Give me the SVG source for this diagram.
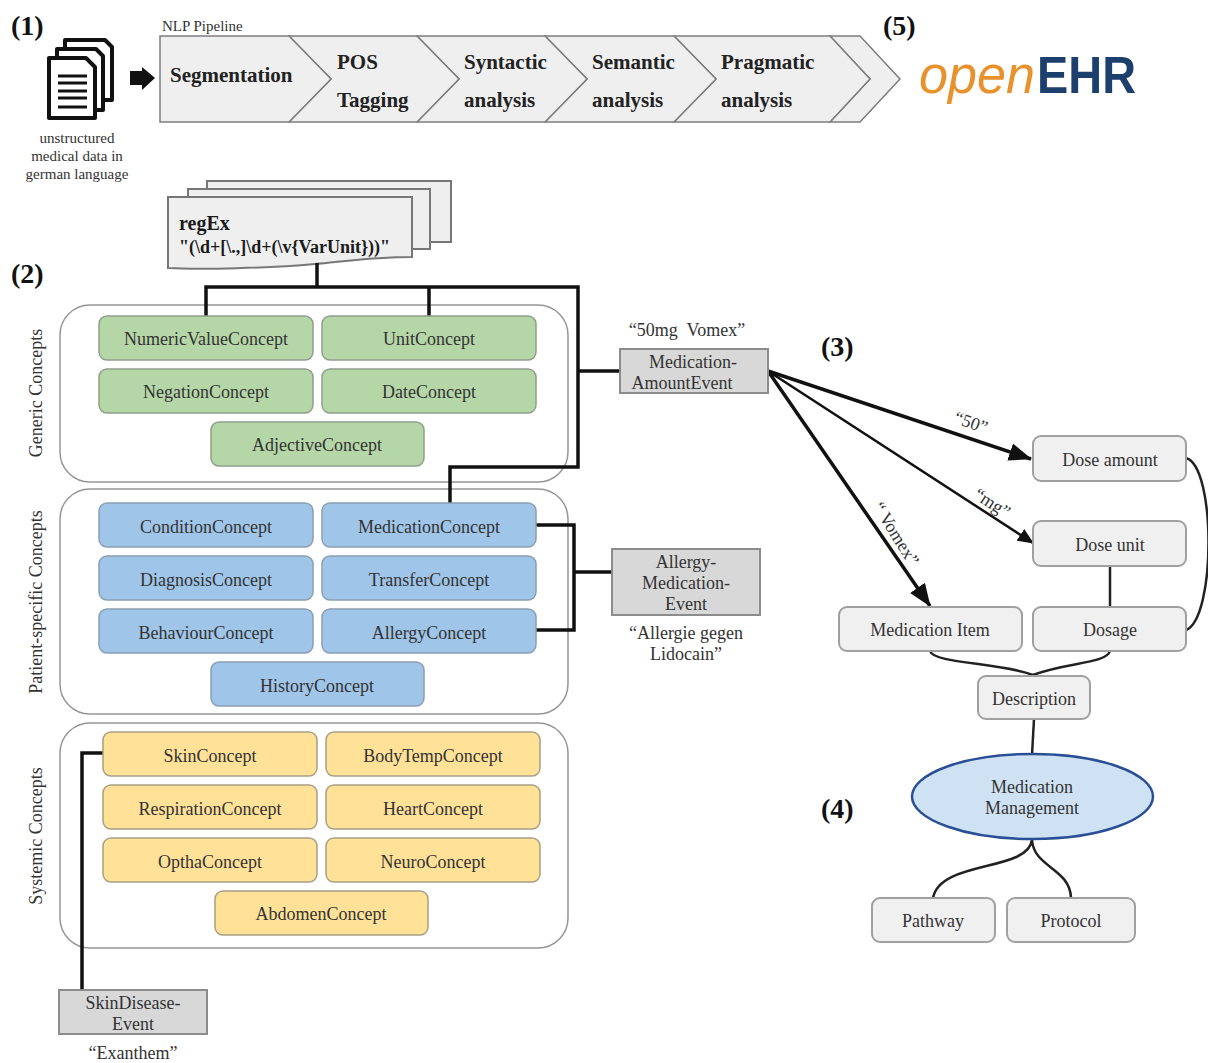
<svg xmlns="http://www.w3.org/2000/svg" width="1208" height="1063" viewBox="0 0 1208 1063">
<style>
text{font-family:"Liberation Serif","Times New Roman",serif;fill:#333;font-size:18px}
.c{text-anchor:middle}
.b{font-weight:bold;fill:#1a1a1a}
.h{font-weight:bold;font-size:28px;fill:#111}
.s{font-size:15px;fill:#333}
.st{font-size:21px;font-weight:bold;fill:#222}
.green rect{fill:#b5d7a8;stroke:#8f9f8a;stroke-width:1.5}
.blue rect{fill:#9fc5e8;stroke:#8a9fb3;stroke-width:1.5}
.yellow rect{fill:#ffe198;stroke:#a8a084;stroke-width:1.5}
.grey rect{fill:#f0f0f0;stroke:#a0a0a0;stroke-width:2}
.ev rect{fill:#d8d8d8;stroke:#8c8c8c;stroke-width:2}
.grp{fill:#fff;stroke:#969696;stroke-width:1.5}
.chev{fill:#efefef;stroke:#7d7d7d;stroke-width:1.5}
.k{fill:none;stroke:#111;stroke-width:3.5}
.k2{fill:none;stroke:#222;stroke-width:2.5}
.page{fill:#fff;stroke:#111;stroke-width:4;stroke-linejoin:round}
.reg{fill:#efefef;stroke:#777;stroke-width:2}
</style>
<defs>
<marker id="ah" markerUnits="userSpaceOnUse" markerWidth="24" markerHeight="18" refX="22" refY="9" orient="auto"><path d="M0 0L23 9L0 18z" fill="#111"/></marker>
<marker id="ahs" markerUnits="userSpaceOnUse" markerWidth="16" markerHeight="14" refX="15" refY="7" orient="auto"><path d="M0 0L16 7L0 14z" fill="#111"/></marker>
</defs>
<rect width="1208" height="1063" fill="#fff"/>
<g id="labels">
<text class="h" x="11" y="35">(1)</text>
<text class="h" x="11" y="283">(2)</text>
<text class="h" x="821" y="356">(3)</text>
<text class="h" x="821" y="818">(4)</text>
<text class="h" x="883" y="35">(5)</text>
</g>
<g id="documents">
<path class="page" d="M65 40H105L112 47V100H65z"/>
<path class="page" d="M57 49H96L103 56V110H57z"/>
<path class="page" d="M49 58H86L95 67V118H49z"/>
<path d="M58 76H87M58 83H87M58 91H87M58 98H87M58 107H87" stroke="#111" stroke-width="3" fill="none"/>
<text class="s c" x="77" y="143">unstructured</text>
<text class="s c" x="77" y="161">medical data in</text>
<text class="s c" x="77" y="179">german language</text>
</g>
<path id="arrow" d="M130 71H142V67L155 78L142 90V85H130z" fill="#111"/>
<g id="pipeline">
<text x="162" y="31" style="font-size:15px">NLP Pipeline</text>
<path class="chev" d="M860 36L900 79L860 122H830L870 79L830 36z"/>
<path class="chev" d="M674 36H830L870 79L830 122H674L716 79z"/>
<path class="chev" d="M545 36H674L716 79L674 122H545L587 79z"/>
<path class="chev" d="M417 36H545L587 79L545 122H417L459 79z"/>
<path class="chev" d="M289 36H417L459 79L417 122H289L331 79z"/>
<path class="chev" d="M160 36H289L331 79L289 122H160z"/>
<text class="st" x="170" y="82">Segmentation</text>
<text class="st" x="337" y="69">POS</text>
<text class="st" x="337" y="107">Tagging</text>
<text class="st" x="464" y="69">Syntactic</text>
<text class="st" x="464" y="107">analysis</text>
<text class="st" x="592" y="69">Semantic</text>
<text class="st" x="592" y="107">analysis</text>
<text class="st" x="721" y="69">Pragmatic</text>
<text class="st" x="721" y="107">analysis</text>
</g>
<g id="openehr">
<text x="919" y="93" textLength="116" lengthAdjust="spacingAndGlyphs" style="font-family:'Liberation Sans',sans-serif;font-size:54px;font-style:italic;fill:#e8922e">open</text>
<text x="1037" y="93" textLength="99" lengthAdjust="spacingAndGlyphs" style="font-family:'Liberation Sans',sans-serif;font-size:52px;font-weight:bold;fill:#1d3f6e">EHR</text>
</g>
<g id="regex">
<rect class="reg" x="207" y="181" width="244" height="61"/>
<rect class="reg" x="188" y="189" width="242" height="60"/>
<path class="reg" d="M168 197H412V257C370 257 340 262 315 264C270 268 200 270 168 268z"/>
<text x="179" y="230" class="b" style="font-size:20px">regEx</text>
<text x="179" y="253" class="b" style="font-size:18px">"(\d+[\.,]\d+(\v{VarUnit}))"</text>
</g>
<g id="group-generic">
<rect class="grp" x="60" y="305" width="508" height="177" rx="30"/>
<text class="c" transform="translate(42 393) rotate(-90)">Generic Concepts</text>
</g>
<g id="group-patient">
<rect class="grp" x="60" y="489" width="508" height="225" rx="30"/>
<text class="c" transform="translate(42 602) rotate(-90)">Patient-specific Concepts</text>
</g>
<g id="group-systemic">
<rect class="grp" x="60" y="723" width="508" height="225" rx="30"/>
<text class="c" transform="translate(42 836) rotate(-90)">Systemic Concepts</text>
</g>
<g id="connectors">
<path class="k" d="M317 263V287M206 316V287H578V371H620M429 287V316M450 503V467H578V371"/>
<path class="k" d="M536 525H574V630H536M574 572H612"/>
<path class="k" d="M103 753H82V990"/>
<path d="M768 371L1031 459" fill="none" stroke="#111" stroke-width="3.5" marker-end="url(#ah)"/>
<path d="M768 371L1033 543" fill="none" stroke="#111" stroke-width="2.5" marker-end="url(#ahs)"/>
<path d="M768 371L930 606" fill="none" stroke="#111" stroke-width="3.5" marker-end="url(#ah)"/>
<path class="k2" d="M1186 458C1216 466 1216 618 1186 630"/>
<path class="k2" d="M1110 566V607"/>
<path class="k2" d="M930 651C934 664 1000 662 1033 675C1066 662 1106 664 1110 651"/>
<path class="k2" d="M1034 719L1032 755"/>
<path class="k2" d="M1032 840C1028 872 940 860 933 898M1032 840C1034 868 1070 868 1071 898"/>
</g>
<g id="edge-labels">
<text class="c" transform="translate(969 428) rotate(20)">“50”</text>
<text class="c" transform="translate(989 508) rotate(33)">“mg”</text>
<text class="c" transform="translate(891 537) rotate(58)">“ Vomex”</text>
</g>
<g id="NumericValueConcept" class="green"><rect x="99" y="316" width="214" height="44" rx="8"/><text class="c" x="206" y="345">NumericValueConcept</text></g>
<g id="UnitConcept" class="green"><rect x="322" y="316" width="214" height="44" rx="8"/><text class="c" x="429" y="345">UnitConcept</text></g>
<g id="NegationConcept" class="green"><rect x="99" y="369" width="214" height="44" rx="8"/><text class="c" x="206" y="398">NegationConcept</text></g>
<g id="DateConcept" class="green"><rect x="322" y="369" width="214" height="44" rx="8"/><text class="c" x="429" y="398">DateConcept</text></g>
<g id="AdjectiveConcept" class="green"><rect x="211" y="422" width="213" height="44" rx="8"/><text class="c" x="317" y="451">AdjectiveConcept</text></g>
<g id="ConditionConcept" class="blue"><rect x="99" y="503" width="214" height="44" rx="8"/><text class="c" x="206" y="533">ConditionConcept</text></g>
<g id="MedicationConcept" class="blue"><rect x="322" y="503" width="214" height="44" rx="8"/><text class="c" x="429" y="533">MedicationConcept</text></g>
<g id="DiagnosisConcept" class="blue"><rect x="99" y="556" width="214" height="44" rx="8"/><text class="c" x="206" y="586">DiagnosisConcept</text></g>
<g id="TransferConcept" class="blue"><rect x="322" y="556" width="214" height="44" rx="8"/><text class="c" x="429" y="586">TransferConcept</text></g>
<g id="BehaviourConcept" class="blue"><rect x="99" y="609" width="214" height="44" rx="8"/><text class="c" x="206" y="639">BehaviourConcept</text></g>
<g id="AllergyConcept" class="blue"><rect x="322" y="609" width="214" height="44" rx="8"/><text class="c" x="429" y="639">AllergyConcept</text></g>
<g id="HistoryConcept" class="blue"><rect x="211" y="662" width="213" height="44" rx="8"/><text class="c" x="317" y="692">HistoryConcept</text></g>
<g id="SkinConcept" class="yellow"><rect x="103" y="732" width="214" height="44" rx="8"/><text class="c" x="210" y="762">SkinConcept</text></g>
<g id="BodyTempConcept" class="yellow"><rect x="326" y="732" width="214" height="44" rx="8"/><text class="c" x="433" y="762">BodyTempConcept</text></g>
<g id="RespirationConcept" class="yellow"><rect x="103" y="785" width="214" height="44" rx="8"/><text class="c" x="210" y="815">RespirationConcept</text></g>
<g id="HeartConcept" class="yellow"><rect x="326" y="785" width="214" height="44" rx="8"/><text class="c" x="433" y="815">HeartConcept</text></g>
<g id="OpthaConcept" class="yellow"><rect x="103" y="838" width="214" height="44" rx="8"/><text class="c" x="210" y="868">OpthaConcept</text></g>
<g id="NeuroConcept" class="yellow"><rect x="326" y="838" width="214" height="44" rx="8"/><text class="c" x="433" y="868">NeuroConcept</text></g>
<g id="AbdomenConcept" class="yellow"><rect x="215" y="891" width="213" height="44" rx="8"/><text class="c" x="321" y="920">AbdomenConcept</text></g>
<g id="MedicationAmountEvent" class="ev"><text class="c" x="687" y="336" style="white-space:pre">“50mg  Vomex”</text><rect x="620" y="349" width="148" height="44"/><text class="c" x="693" y="368">Medication-</text><text class="c" x="682" y="389">AmountEvent</text></g>
<g id="AllergyMedicationEvent" class="ev"><rect x="612" y="549" width="148" height="66"/><text class="c" x="686" y="568">Allergy-</text><text class="c" x="686" y="589">Medication-</text><text class="c" x="686" y="610">Event</text><text class="c" x="686" y="639">“Allergie gegen</text><text class="c" x="686" y="660">Lidocain”</text></g>
<g id="SkinDiseaseEvent" class="ev"><rect x="59" y="990" width="148" height="44"/><text class="c" x="133" y="1009">SkinDisease-</text><text class="c" x="133" y="1030">Event</text><text class="c" x="133" y="1059">“Exanthem”</text></g>
<g id="DoseAmount" class="grey"><rect x="1033" y="436" width="153" height="45" rx="8"/><text class="c" x="1110" y="466">Dose amount</text></g>
<g id="DoseUnit" class="grey"><rect x="1033" y="521" width="153" height="45" rx="8"/><text class="c" x="1110" y="551">Dose unit</text></g>
<g id="MedicationItem" class="grey"><rect x="839" y="607" width="183" height="44" rx="8"/><text class="c" x="930" y="636">Medication Item</text></g>
<g id="Dosage" class="grey"><rect x="1033" y="607" width="153" height="44" rx="8"/><text class="c" x="1110" y="636">Dosage</text></g>
<g id="Description" class="grey"><rect x="978" y="676" width="112" height="43" rx="8"/><text class="c" x="1034" y="705">Description</text></g>
<g id="MedicationManagement"><ellipse cx="1032.500" cy="796.500" rx="120.500" ry="42.500" fill="#cfe2f3" stroke="#2a4f96" stroke-width="2.500"/><text class="c" x="1032" y="793">Medication</text><text class="c" x="1032" y="814">Management</text></g>
<g id="Pathway" class="grey"><rect x="872" y="898" width="123" height="44" rx="8"/><text class="c" x="933" y="927">Pathway</text></g>
<g id="Protocol" class="grey"><rect x="1007" y="898" width="128" height="44" rx="8"/><text class="c" x="1071" y="927">Protocol</text></g>
</svg>
